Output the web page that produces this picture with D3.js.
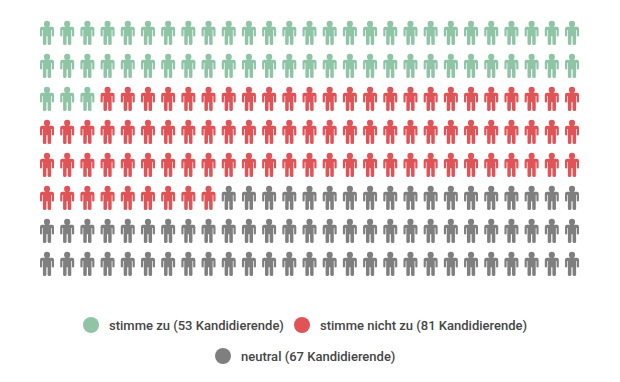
<!DOCTYPE html>
<html>
<head>
<meta charset="utf-8">
<script src="https://cdn.jsdelivr.net/npm/d3@7.9.0/dist/d3.min.js"></script>
<style>
  html, body { margin: 0; padding: 0; background: #fff; }
  text { font-family: Roboto, sans-serif; font-weight: 500; font-size: 13px; fill: #454545; }
</style>
</head>
<body>
<svg id="chart" width="620" height="382"></svg>
<script>
const categories = ['stimme zu', 'stimme nicht zu', 'neutral'];
const candidates = [53, 81, 67];
// icons per category as counted in the picture
const iconCounts = [57, 87, 72];
const colors = ['#8fc5a6', '#e05357', '#7f7f7f'];
const columns = d3.range(27);
const rows = d3.range(8);

const svg = d3.select('#chart');

const xScale = d3.scalePoint().domain(columns).range([47, 572]);
const yScale = d3.scalePoint().domain(rows).range([33, 264]);
const colorScale = d3.scaleOrdinal().domain(categories).range(colors);

// one entry per icon, filled row by row
const icons = categories.flatMap((cat, i) => d3.range(iconCounts[i]).map(() => cat));

// person glyph, centred on 0,0, 14 wide and 24 high
const person = 'M-3.1,-9.1 a3.1,3.1 0 1 1 6.2,0 a3.1,3.1 0 1 1 -6.2,0 Z' +
  'M-5,-6.2 H5 Q7,-6.2 7,-4.2 V2.6 Q7,3.6 5.9,3.6 Q4.8,3.6 4.8,2.6 V-3 H4.1 V10.8 Q4.1,12 2.6,12 Q0.6,12 0.6,10.8 V3.2 H-0.6 V10.8 Q-0.6,12 -2.6,12 Q-4.1,12 -4.1,10.8 V-3 H-4.8 V2.6 Q-4.8,3.6 -5.9,3.6 Q-7,3.6 -7,2.6 V-4.2 Q-7,-6.2 -5,-6.2 Z';

svg.append('g')
  .attr('class', 'icons')
  .selectAll('path')
  .data(icons)
  .join('path')
  .attr('d', person)
  .attr('transform', (d, i) => `translate(${xScale(i % columns.length)},${yScale(Math.floor(i / columns.length))})`)
  .attr('fill', (d) => colorScale(d));

// legend
const legendX = [91, 302, 223];
const legendY = [325, 325, 356];
const legend = svg.append('g')
  .attr('class', 'legend')
  .selectAll('g')
  .data(categories)
  .join('g')
  .attr('transform', (d, i) => `translate(${legendX[i]},${legendY[i]})`);

legend.append('circle')
  .attr('r', 8)
  .attr('fill', (d) => colorScale(d));

legend.append('text')
  .attr('x', 18)
  .attr('y', 4.5)
  .text((d, i) => `${d} (${candidates[i]} Kandidierende)`);
</script>
</body>
</html>
